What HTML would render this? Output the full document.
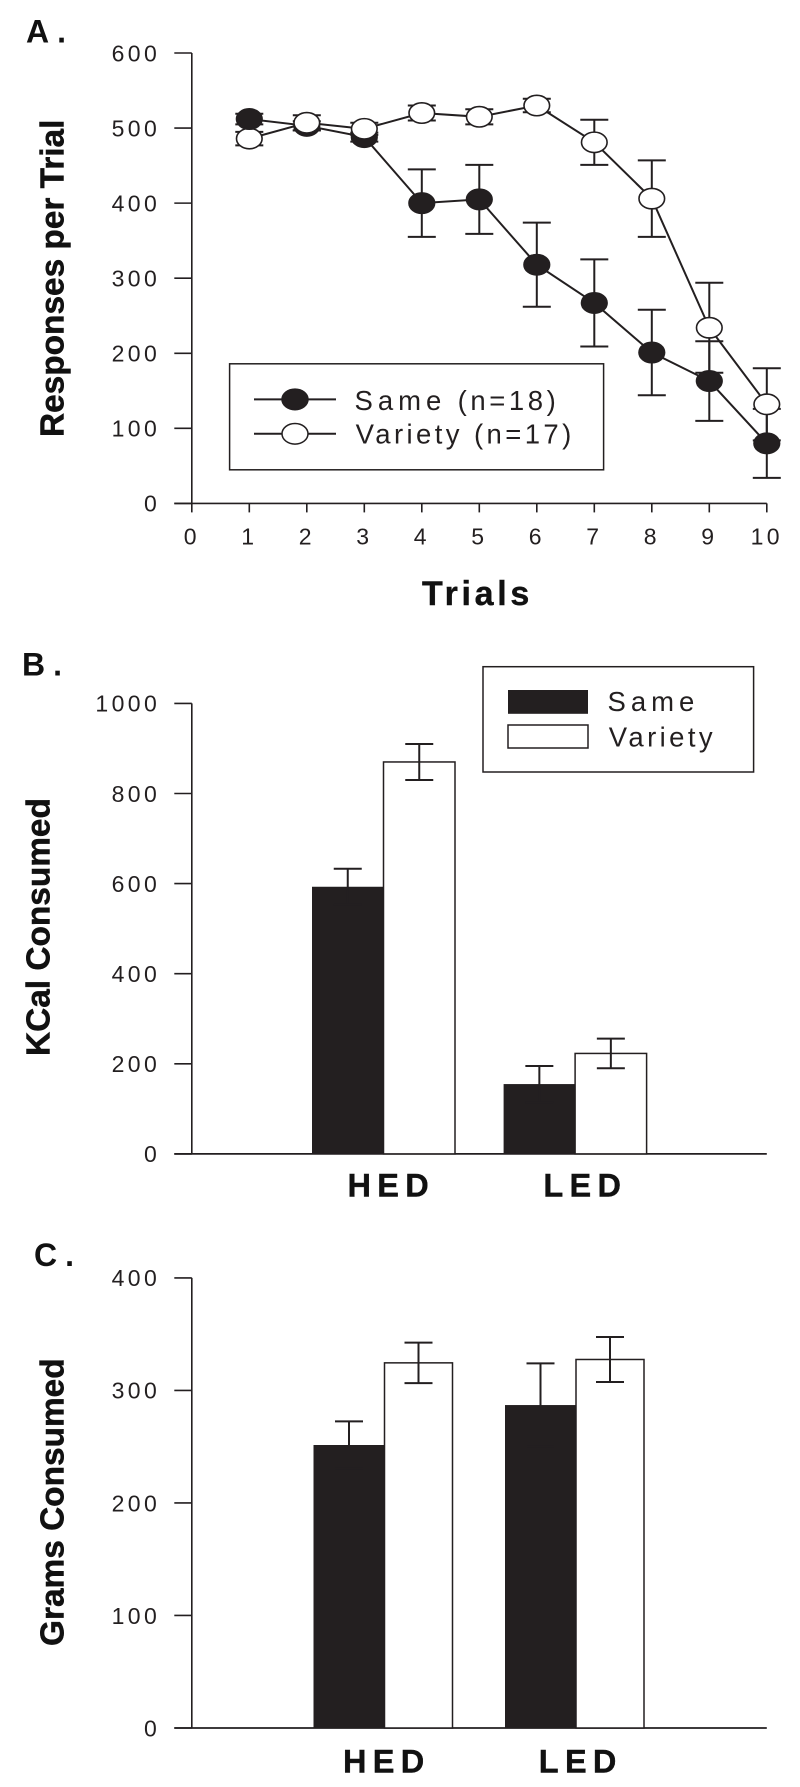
<!DOCTYPE html>
<html lang="en">
<head>
<meta charset="utf-8">
<title>Responses per trial and consumption by food variety</title>
<style>
html,body{margin:0;padding:0;background:#fff;}
svg{display:block;}
text{font-family:"Liberation Sans",sans-serif;fill:#231f20;}
.tick{font-size:23px;letter-spacing:3.4px;}
.title{font-size:33.4px;font-weight:bold;fill:#111;stroke:#111;stroke-width:0.5px;}
.panel{font-size:32px;font-weight:bold;letter-spacing:8px;fill:#111;}
.cat{font-size:32.5px;font-weight:bold;letter-spacing:6.3px;fill:#111;stroke:#111;stroke-width:0.4px;}
.axis-title{font-size:34px;font-weight:bold;letter-spacing:3.7px;fill:#111;stroke:#111;stroke-width:0.4px;}
.leg{font-size:27.5px;letter-spacing:3.4px;}
.leg-same{letter-spacing:5px;}
.leg-rest{letter-spacing:3.6px;}
</style>
</head>
<body>
<svg id="figure" xmlns="http://www.w3.org/2000/svg" width="800" height="1787" viewBox="0 0 800 1787">
  <rect x="0" y="0" width="800" height="1787" fill="#fff"/>
  <text class="panel" x="26" y="42.7">A.</text>
  <text class="panel" x="22" y="675.5">B.</text>
  <text class="panel" x="34" y="1266">C.</text>
  <text class="title" transform="translate(63.5,437) rotate(-90)">Responses per Trial</text>
  <text class="title" transform="translate(49.5,1056) rotate(-90)">KCal Consumed</text>
  <text class="title" transform="translate(63.5,1646) rotate(-90)">Grams Consumed</text>
  <text class="axis-title" x="422" y="605">Trials</text>

  <g id="chartA"></g>
  <g id="chartB"></g>
  <g id="chartC"></g>

  <g>
    <rect x="229.6" y="363.8" width="374" height="106" fill="#fff" stroke="#231f20" stroke-width="1.5"/>
    <line x1="254" y1="399.4" x2="336" y2="399.4" stroke="#231f20" stroke-width="2"/>
    <ellipse cx="295" cy="399.4" rx="13" ry="10.3" fill="#231f20" stroke="#231f20" stroke-width="1.5"/>
    <text class="leg" x="354.5" y="410"><tspan class="leg-same">Same</tspan><tspan class="leg-rest"> (n=18)</tspan></text>
    <line x1="254" y1="433.8" x2="336" y2="433.8" stroke="#231f20" stroke-width="2"/>
    <ellipse cx="295" cy="433.8" rx="13" ry="10.3" fill="#fff" stroke="#231f20" stroke-width="1.5"/>
    <text class="leg" x="355.6" y="443.5">Variety (n=17)</text>
  </g>

  <g>
    <rect x="483" y="666.7" width="270.6" height="105.3" fill="#fff" stroke="#231f20" stroke-width="1.5"/>
    <rect x="508" y="690" width="80" height="23.8" fill="#231f20"/>
    <text class="leg leg-same" x="607.5" y="711">Same</text>
    <rect x="508" y="725" width="80" height="23" fill="#fff" stroke="#231f20" stroke-width="1.5"/>
    <text class="leg" x="608.7" y="746.3">Variety</text>
  </g>
</svg>
<script>
// ---------- Panel A data ----------
const trialTicks = [0, 1, 2, 3, 4, 5, 6, 7, 8, 9, 10];
const trials = [1, 2, 3, 4, 5, 6, 7, 8, 9, 10];
const sameValues = [512, 503, 488, 400, 405, 318, 267, 201, 163, 80];
const sameErrors = [7, 6, 6, 45, 46, 56, 58, 57, 53, 46];
const varietyValues = [486, 507, 499, 520, 515, 530, 481, 406, 234, 132];
const varietyErrors = [9, 10, 8, 10, 10, 9, 30, 51, 60, 48];
const responseTicks = [0, 100, 200, 300, 400, 500, 600];

// ---------- Panel B data ----------
const foodCategories = ['HED', 'LED'];
const kcalSame = [593, 155];
const kcalSameErrors = [40, 40];
const kcalVariety = [870, 223];
const kcalVarietyErrors = [40, 33];
const kcalTicks = [0, 200, 400, 600, 800, 1000];

// ---------- Panel C data ----------
const gramsSame = [251.5, 287];
const gramsSameErrors = [21, 37];
const gramsVariety = [324.5, 327.5];
const gramsVarietyErrors = [18, 20];
const gramsTicks = [0, 100, 200, 300, 400];

const INK = '#231f20';
const NS = 'http://www.w3.org/2000/svg';
const AXIS_LEFT = 191.8;
const AXIS_RIGHT = 766.8;
const TICK_LEN = 17.5;

function make(parent, tag, attrs, text) {
  const node = document.createElementNS(NS, tag);
  for (const key in attrs) node.setAttribute(key, attrs[key]);
  if (text !== undefined) node.textContent = text;
  parent.appendChild(node);
  return node;
}

function linearScale(d0, d1, r0, r1) {
  return function (v) { return r0 + (v - d0) * (r1 - r0) / (d1 - d0); };
}

function drawYAxis(parent, ticks, y, prefix) {
  const axis = make(parent, 'line', {x1: AXIS_LEFT, x2: AXIS_LEFT, y1: y(ticks[ticks.length - 1]), y2: y(0), stroke: INK, 'stroke-width': 1.6});
  
  
  ticks.forEach(function (t) {
    const mark = make(parent, 'line', {x1: AXIS_LEFT - TICK_LEN, x2: AXIS_LEFT, y1: y(t), y2: y(t), stroke: INK, 'stroke-width': 1.6});
    
    
    const label = make(parent, 'text', {class: 'tick', x: 160.2, y: y(t) + 8.3, 'text-anchor': 'end'}, String(t));
    
    
  });
}

function drawErrorBar(parent, cx, yTop, yBottom, capHalf, name) {
  const stem = make(parent, 'line', {x1: cx, x2: cx, y1: yTop, y2: yBottom, stroke: INK, 'stroke-width': 2});
  
  
  const capTop = make(parent, 'line', {x1: cx - capHalf, x2: cx + capHalf, y1: yTop, y2: yTop, stroke: INK, 'stroke-width': 2});
  
  
  const capBottom = make(parent, 'line', {x1: cx - capHalf, x2: cx + capHalf, y1: yBottom, y2: yBottom, stroke: INK, 'stroke-width': 2});
  
  
}

function drawChartA() {
  const root = document.getElementById('chartA');
  const x = linearScale(0, 10, AXIS_LEFT, AXIS_RIGHT);
  const y = linearScale(0, 600, 503.4, 53);
  drawYAxis(root, responseTicks, y, 'panel-a');

  const xAxis = make(root, 'line', {x1: AXIS_LEFT - TICK_LEN, x2: AXIS_RIGHT, y1: y(0), y2: y(0), stroke: INK, 'stroke-width': 1.6});
  
  
  trialTicks.forEach(function (t) {
    const mark = make(root, 'line', {x1: x(t), x2: x(t), y1: y(0), y2: y(0) + 9, stroke: INK, 'stroke-width': 1.6});
    
    
    const label = make(root, 'text', {class: 'tick', x: x(t), y: 544.3, 'text-anchor': 'middle'}, String(t));
    
    
  });

  function pts(values) {
    return values.map(function (v, i) { return x(trials[i]) + ',' + y(v); }).join(' ');
  }

  const sameLine = make(root, 'polyline', {points: pts(sameValues), fill: 'none', stroke: INK, 'stroke-width': 2});
  
  
  const varietyLine = make(root, 'polyline', {points: pts(varietyValues), fill: 'none', stroke: INK, 'stroke-width': 2});
  
  

  trials.forEach(function (t, i) {
    drawErrorBar(root, x(t), y(sameValues[i] + sameErrors[i]), y(sameValues[i] - sameErrors[i]), 14, 'same-trial-' + t);
    drawErrorBar(root, x(t), y(varietyValues[i] + varietyErrors[i]), y(varietyValues[i] - varietyErrors[i]), 14, 'variety-trial-' + t);
  });

  function point(i, fill, series) {
    const dot = make(root, 'ellipse', {cx: x(trials[i]), cy: y(series === 'same' ? sameValues[i] : varietyValues[i]), rx: 12.8, ry: 10.2, fill: fill, stroke: INK, 'stroke-width': 1.6});
    
    
  }
  // The first filled marker sits over the open one; every later open marker is on top.
  point(0, '#fff', 'variety');
  trials.forEach(function (t, i) { point(i, INK, 'same'); });
  trials.forEach(function (t, i) { if (i > 0) point(i, '#fff', 'variety'); });
}

function drawBars(rootId, prefix, ticks, yTop, yZero, same, sameErr, variety, varietyErr, x0, step, sameW, varW, catY, catX) {
  const root = document.getElementById(rootId);
  const y = linearScale(0, ticks[ticks.length - 1], yZero, yTop);
  drawYAxis(root, ticks, y, prefix);

  const xAxis = make(root, 'line', {x1: AXIS_LEFT - TICK_LEN, x2: AXIS_RIGHT, y1: y(0), y2: y(0), stroke: INK, 'stroke-width': 1.8});
  
  

  foodCategories.forEach(function (cat, i) {
    const left = x0 + i * step;
    const black = make(root, 'rect', {x: left, y: y(same[i]), width: sameW, height: y(0) - y(same[i]), fill: INK});
    
    
    const white = make(root, 'rect', {x: left + sameW, y: y(variety[i]), width: varW, height: y(0) - y(variety[i]), fill: '#fff', stroke: INK, 'stroke-width': 1.5});
    
    
    drawErrorBar(root, left + sameW / 2, y(same[i] + sameErr[i]), y(same[i] - sameErr[i]), 14, prefix + '-same-' + cat.toLowerCase());
    drawErrorBar(root, left + sameW + varW / 2, y(variety[i] + varietyErr[i]), y(variety[i] - varietyErr[i]), 14, prefix + '-variety-' + cat.toLowerCase());
    const label = make(root, 'text', {class: 'cat', x: catX + i * (step + 4.3), y: catY}, cat);
    
    
  });
}

drawChartA();
drawBars('chartB', 'panel-b', kcalTicks, 703.4, 1153.9, kcalSame, kcalSameErrors, kcalVariety, kcalVarietyErrors, 312, 191.6, 71.5, 71.5, 1196.7, 347.5);
drawBars('chartC', 'panel-c', gramsTicks, 1277.9, 1728, gramsSame, gramsSameErrors, gramsVariety, gramsVarietyErrors, 313.5, 191.5, 71, 68, 1772.5, 343);
</script>
</body>
</html>
